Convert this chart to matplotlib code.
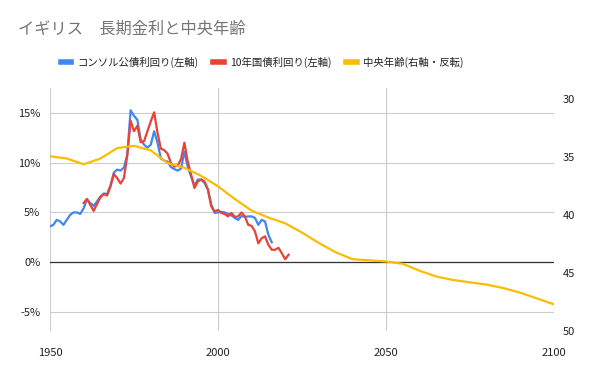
import numpy as np
import matplotlib
matplotlib.use("Agg")
import matplotlib.pyplot as plt
from matplotlib.ticker import FuncFormatter

plt.rcParams['font.family'] = ['Noto Sans CJK JP', 'DejaVu Sans']

# コンソル公債利回り (1950-2016)
consol_years = list(range(1950, 2017))
consol = [3.6, 3.75, 4.25, 4.1, 3.75, 4.25, 4.75, 5.0, 5.0, 4.85,
          5.4, 6.3, 5.95, 5.65, 6.1, 6.6, 6.9, 6.85, 7.7, 9.0,
          9.3, 9.2, 9.5, 10.8, 15.25, 14.7, 14.3, 12.3, 11.8, 11.5,
          11.8, 13.15, 12.0, 10.4, 10.2, 10.1, 9.55, 9.35, 9.2, 9.4,
          11.1, 9.6, 8.6, 7.7, 8.3, 8.3, 7.95, 7.3, 5.8, 4.95,
          5.0, 5.05, 5.0, 4.85, 4.7, 4.45, 4.25, 4.65, 4.55, 4.6,
          4.6, 4.45, 3.75, 4.25, 4.1, 2.75, 2.0]

# 10年国債利回り (1960-2021)
gilt_years = list(range(1960, 2022))
gilt = [5.95, 6.35, 5.75, 5.15, 5.85, 6.5, 6.85, 6.7, 7.6, 8.85,
        8.45, 7.9, 8.45, 10.7, 14.2, 13.15, 13.7, 12.05, 12.15, 13.15,
        14.15, 15.05, 13.0, 11.4, 11.25, 10.9, 9.95, 9.6, 9.7, 10.35,
        12.0, 10.1, 8.8, 7.45, 8.1, 8.3, 8.1, 7.3, 5.6, 5.1,
        5.25, 4.95, 4.85, 4.6, 4.95, 4.55, 4.6, 5.0, 4.6, 3.75,
        3.65, 3.1, 1.9, 2.4, 2.6, 1.75, 1.25, 1.25, 1.45, 0.9,
        0.3, 0.75]

# 中央年齢 (5年ごと)
age_years = list(range(1950, 2101, 5))
median_age = [34.9, 35.1, 35.6, 35.1, 34.2, 34.0, 34.4, 35.5, 35.9, 36.6,
              37.5, 38.6, 39.6, 40.2, 40.7, 41.5, 42.4, 43.2, 43.8, 43.9,
              44.0, 44.2, 44.8, 45.3, 45.6, 45.8, 46.0, 46.3, 46.7, 47.2,
              47.7]

fig = plt.figure(figsize=(6, 3.71), dpi=100)
ax = fig.add_axes([0.0833, 0.108, 0.84, 0.655])
ax2 = ax.twinx()

ax.plot(consol_years, consol, color='#4285F4', lw=1.6, label='コンソル公債利回り(左軸)')
ax.plot(gilt_years, gilt, color='#EA4335', lw=1.6, label='10年国債利回り(左軸)')
ax2.plot(age_years, median_age, color='#FBBC04', lw=1.6, label='中央年齢(右軸・反転)')

ax.set_xlim(1950, 2100)
ax.set_ylim(-6.9, 17.5)
ax2.set_ylim(50, 29)

ax.set_xticks([1950, 2000, 2050, 2100])
ax.set_yticks([-5, 0, 5, 10, 15])
ax.yaxis.set_major_formatter(FuncFormatter(lambda v, p: '%d%%' % v))
ax2.set_yticks([30, 35, 40, 45, 50])

ax.grid(True, color='#cccccc', lw=0.8)
ax.axhline(0, color='#333333', lw=0.9)
for a in (ax, ax2):
    for s in a.spines.values():
        s.set_visible(False)
    a.tick_params(length=0, labelsize=8, colors='#222222')
ax.tick_params(axis='y', pad=7)
ax.tick_params(axis='x', pad=12)
ax2.tick_params(axis='y', pad=6)

fig.text(0.03, 0.92, 'イギリス\u3000長期金利と中央年齢', fontsize=11.7, color='#757575', va='center')

h1, l1 = ax.get_legend_handles_labels()
h2, l2 = ax2.get_legend_handles_labels()
leg = fig.legend(h1 + h2, l1 + l2, loc='center', bbox_to_anchor=(0.437, 0.832), ncol=3,
                 frameon=False, fontsize=7.5, handlelength=1.0, columnspacing=1.4, handletextpad=0.6)
for line in leg.get_lines():
    line.set_linewidth(4)
for t in leg.get_texts():
    t.set_color('#222222')

fig.savefig('out.png', dpi=100)
